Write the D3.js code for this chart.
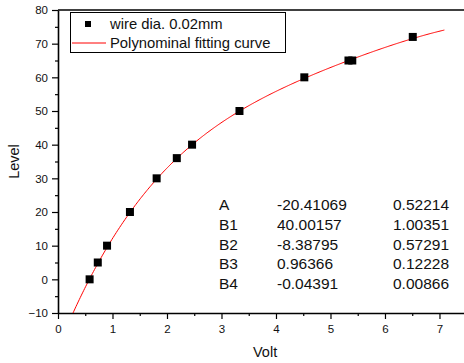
<!DOCTYPE html>
<html>
<head>
<meta charset="utf-8">
<script src="https://cdn.jsdelivr.net/npm/d3@7"></script>
<style>
  body { margin: 0; background: #fff; }
  text { font-family: "Liberation Sans", Arial, sans-serif; fill: #111; }
</style>
</head>
<body>
<div id="chart"></div>
<script>
// measured points (Volt, Level)
const volts  = [0.58, 0.73, 0.90, 1.32, 1.81, 2.18, 2.46, 3.33, 4.52, 5.33, 5.40, 6.51];
const levels = [0, 5, 10, 20, 30, 36, 40, 50, 60, 65, 65, 72];

// fit table shown on the chart
const paramNames  = ['A', 'B1', 'B2', 'B3', 'B4'];
const paramValues = [-20.41069, 40.00157, -8.38795, 0.96366, -0.04391];
const paramErrors = ['0.52214', '1.00351', '0.57291', '0.12228', '0.00866'];

const xTicks = [0, 1, 2, 3, 4, 5, 6, 7];
const yTicks = [-10, 0, 10, 20, 30, 40, 50, 60, 70, 80];

const width = 464, height = 363;
const plotLeft = 58, plotTop = 10, plotRight = 464, plotBottom = 313;

const svg = d3.select('#chart').append('svg')
  .attr('width', width)
  .attr('height', height);

const x = d3.scaleLinear().domain([0, 7.45]).range([plotLeft, plotRight]);
const y = d3.scaleLinear().domain([-10, 80]).range([plotBottom, plotTop]);

svg.append('defs').append('clipPath').attr('id', 'clip')
  .append('rect')
  .attr('x', plotLeft).attr('y', plotTop)
  .attr('width', plotRight - plotLeft).attr('height', plotBottom - plotTop);

// minor ticks
svg.append('g')
  .attr('transform', `translate(0,${plotBottom})`)
  .call(d3.axisBottom(x).tickValues(d3.range(0.5, 7.5, 1)).tickSize(3).tickFormat(''))
  .call(g => g.select('.domain').remove());
svg.append('g')
  .attr('transform', `translate(${plotLeft},0)`)
  .call(d3.axisLeft(y).tickValues(d3.range(-5, 80, 10)).tickSize(3).tickFormat(''))
  .call(g => g.select('.domain').remove());

// major axes
svg.append('g')
  .attr('transform', `translate(0,${plotBottom})`)
  .call(d3.axisBottom(x).tickValues(xTicks).tickSize(6).tickSizeOuter(0).tickPadding(6));
svg.append('g')
  .attr('transform', `translate(${plotLeft},0)`)
  .call(d3.axisLeft(y).tickValues(yTicks).tickSize(6).tickSizeOuter(0).tickPadding(4));

svg.selectAll('.domain').attr('stroke', '#000').attr('stroke-width', 1.6);
svg.selectAll('.tick line').attr('stroke', '#000').attr('stroke-width', 1.2);
svg.selectAll('.tick text')
  .style('font-family', '"Liberation Sans", Arial, sans-serif')
  .style('font-size', '11.5px')
  .attr('fill', '#222');

// top border
svg.append('line')
  .attr('x1', plotLeft).attr('x2', plotRight)
  .attr('y1', plotTop).attr('y2', plotTop)
  .attr('stroke', '#000').attr('stroke-width', 1.6);

// axis titles
svg.append('text')
  .attr('x', x(3.8)).attr('y', 357)
  .attr('text-anchor', 'middle')
  .style('font-size', '14.5px')
  .text('Volt');
svg.append('text')
  .attr('transform', `translate(19,${y(35)}) rotate(-90)`)
  .attr('text-anchor', 'middle')
  .style('font-size', '14.5px')
  .text('Level');

// fitted polynomial
const poly = v => paramValues.reduce((s, c, i) => s + c * Math.pow(v, i), 0);
const curveX = d3.range(0.27, 7.11, 0.02);
const line = d3.line().x(d => x(d)).y(d => y(poly(d)));
svg.append('path')
  .datum(curveX)
  .attr('clip-path', 'url(#clip)')
  .attr('fill', 'none')
  .attr('stroke', '#ff0000')
  .attr('stroke-width', 1)
  .attr('d', line);

// data points
svg.append('g').selectAll('rect')
  .data(volts.map((v, i) => ({ v, l: levels[i] })))
  .enter().append('rect')
  .attr('x', d => x(d.v) - 4)
  .attr('y', d => y(d.l) - 4)
  .attr('width', 8)
  .attr('height', 8)
  .attr('fill', '#000');

// legend
const lg = svg.append('g');
lg.append('rect')
  .attr('x', 70.5).attr('y', 12.5)
  .attr('width', 215).attr('height', 40)
  .attr('fill', '#fff')
  .attr('stroke', '#000').attr('stroke-width', 1);
lg.append('rect')
  .attr('x', 85).attr('y', 21)
  .attr('width', 6).attr('height', 6)
  .attr('fill', '#000');
lg.append('text')
  .attr('x', 110).attr('y', 29)
  .style('font-size', '14.8px')
  .text('wire dia. 0.02mm');
lg.append('line')
  .attr('x1', 72).attr('x2', 106)
  .attr('y1', 43).attr('y2', 43)
  .attr('stroke', '#ff0000').attr('stroke-width', 1);
lg.append('text')
  .attr('x', 110).attr('y', 48)
  .style('font-size', '14.8px')
  .text('Polynominal fitting curve');

// parameter table
const tbl = svg.append('g').style('font-size', '15.5px');
paramNames.forEach((n, i) => {
  const ty = 210 + i * 19.8;
  tbl.append('text').attr('x', 219).attr('y', ty).text(n);
  tbl.append('text').attr('x', 277).attr('y', ty).text(paramValues[i].toFixed(5));
  tbl.append('text').attr('x', 393).attr('y', ty).text(paramErrors[i]);
});
</script>
</body>
</html>
